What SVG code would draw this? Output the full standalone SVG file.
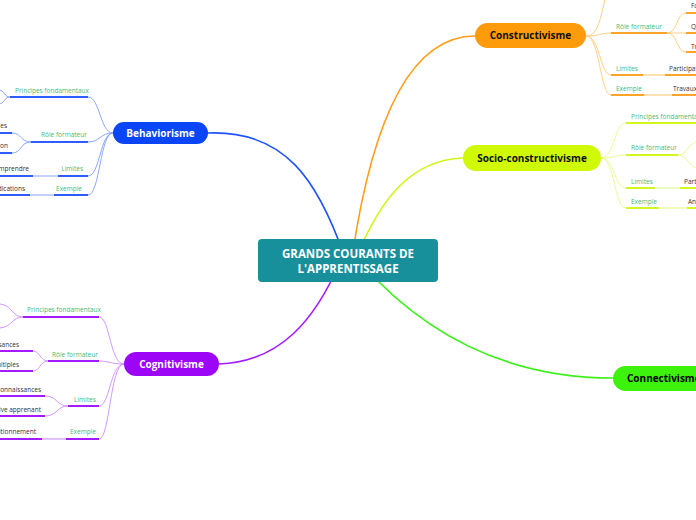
<svg xmlns="http://www.w3.org/2000/svg" width="696" height="520" viewBox="0 0 696 520">
<style>
text{font-family:"Open Sans","Noto Sans","Liberation Sans",sans-serif}
.lbl{font-size:6.5px;fill:#45bb78}
.leaf{font-size:6.5px;fill:#333}
.nt{font-size:10px;font-weight:bold}
.main{fill:none;stroke-width:1.6;stroke-linecap:round}
.thin{fill:none;stroke-width:0.9}
.ul{fill:none;stroke-width:2}
.lt{fill:none;stroke-width:2}
.b .thin{stroke:#7f9cff}.b .ul{stroke:#2f5cff}.b .lt{stroke:#c4d1ff}
.p .thin{stroke:#cc8cff}.p .ul{stroke:#a21cff}.p .lt{stroke:#e0bfff}
.o .thin{stroke:#ffc97a}.o .ul{stroke:#fca42a}.o .lt{stroke:#ffe0b0}
.y .thin{stroke:#e6fa88}.y .ul{stroke:#d3f520}.y .lt{stroke:#effcc0}
</style>
<rect width="696" height="520" fill="#fff"/>
<g id="connectors">
<path class="main" stroke="#1e52ff" d="M208,133 C285,130 318,180 345,258"/>
<path class="main" stroke="#ff9d1a" d="M475,36 C410,36 372,120 352,258"/>
<path class="main" stroke="#d2f51a" d="M463,158 C410,160 380,200 356,258"/>
<path class="main" stroke="#a51cff" d="M219,364 C280,362 315,320 340,262"/>
<path class="main" stroke="#3cf01a" d="M613,378 C500,378 420,330 360,262"/>
<g class="b">
<path class="thin" d="M113,133 C100,133 100,97 88,97"/>
<path class="thin" d="M113,133 C100,133 100,142 88,142"/>
<path class="thin" d="M113,133 C100,133 100,176 88,176"/>
<path class="thin" d="M113,133 C100,133 100,195 88,195"/>
<path class="ul" d="M88,97 H10"/>
<path class="thin" d="M10,97 C4,97 5,90 -2,90"/>
<path class="thin" d="M10,97 C4,97 5,104 -2,104"/>
<path class="ul" d="M88,142 H31"/>
<path class="thin" d="M31,142 C20,142 22,133 12,133"/>
<path class="thin" d="M31,142 C20,142 22,153 12,153"/>
<path class="ul" d="M12,133 H-5"/>
<path class="ul" d="M12,153 H-5"/>
<path class="ul" d="M88,176 H58"/>
<path class="lt" d="M58,176 H33"/>
<path class="ul" d="M33,176 H-5"/>
<path class="ul" d="M88,195 H54"/>
<path class="lt" d="M54,195 H30"/>
<path class="ul" d="M30,195 H-5"/>
</g>
<g class="p">
<path class="thin" d="M124,364 C110,364 110,317 99,317"/>
<path class="thin" d="M124,364 C110,364 110,361 99,361"/>
<path class="thin" d="M124,364 C110,364 110,406 99,406"/>
<path class="thin" d="M124,364 C110,364 110,439 99,439"/>
<path class="ul" d="M99,317 H23"/>
<path class="thin" d="M23,317 C12,317 12,305 0,304"/>
<path class="thin" d="M23,317 C12,317 12,327 0,328"/>
<path class="ul" d="M99,361 H48"/>
<path class="thin" d="M48,361 C40,361 40,351 33,351"/>
<path class="thin" d="M48,361 C40,361 40,371 33,371"/>
<path class="ul" d="M33,351 H-5"/>
<path class="ul" d="M33,371 H-5"/>
<path class="ul" d="M99,406 H68"/>
<path class="thin" d="M68,406 C57,406 57,396 45,396"/>
<path class="thin" d="M68,406 C57,406 57,416 45,416"/>
<path class="ul" d="M45,396 H-5"/>
<path class="ul" d="M45,416 H-5"/>
<path class="ul" d="M99,439 H66"/>
<path class="lt" d="M66,439 H42"/>
<path class="ul" d="M42,439 H-5"/>
</g>
<g class="o">
<path class="thin" d="M586,36 C598,36 600,20 606,-5"/>
<path class="thin" d="M586,36 C600,36 600,33 611,33"/>
<path class="thin" d="M586,36 C600,36 600,75 611,75"/>
<path class="thin" d="M586,36 C600,36 600,95 611,95"/>
<path class="ul" d="M611,33 H667"/>
<path class="thin" d="M667,33 C678,33 676,13 686,13"/>
<path class="thin" d="M667,33 H686"/>
<path class="thin" d="M667,33 C678,33 676,52 686,52"/>
<path class="ul" d="M686,13 H700"/>
<path class="ul" d="M686,33 H700"/>
<path class="ul" d="M686,52 H700"/>
<path class="ul" d="M611,75 H643"/>
<path class="lt" d="M643,75 H665"/>
<path class="ul" d="M665,75 H700"/>
<path class="ul" d="M611,95 H644"/>
<path class="lt" d="M644,95 H672"/>
<path class="ul" d="M672,95 H700"/>
</g>
<g class="y">
<path class="thin" d="M601,158 C615,158 614,123 626,123"/>
<path class="thin" d="M601,158 C615,158 614,155 626,155"/>
<path class="thin" d="M601,158 C615,158 614,188 626,188"/>
<path class="thin" d="M601,158 C615,158 614,208 626,208"/>
<path class="ul" d="M626,123 H700"/>
<path class="ul" d="M626,155 H678"/>
<path class="thin" d="M678,155 C688,155 688,142 700,141"/>
<path class="thin" d="M678,155 C688,155 688,168 700,169"/>
<path class="ul" d="M626,188 H655"/>
<path class="lt" d="M655,188 H680"/>
<path class="ul" d="M680,188 H700"/>
<path class="ul" d="M626,208 H659"/>
<path class="lt" d="M659,208 H687"/>
<path class="ul" d="M687,208 H700"/>
</g>
</g>
<g id="root">
<rect x="258" y="239" width="180" height="43" rx="4" fill="#17909b"/>
<text x="348" y="258" text-anchor="middle" fill="#fff" font-size="11.5" font-weight="bold">GRANDS COURANTS DE</text>
<text x="348" y="273" text-anchor="middle" fill="#fff" font-size="11.5" font-weight="bold">L'APPRENTISSAGE</text>
</g>
<g id="behaviorisme">
<rect x="113" y="122" width="95" height="22" rx="11" fill="#0a45f7"/>
<text class="nt" x="160.5" y="136.5" text-anchor="middle" fill="#fff">Behaviorisme</text>
<text class="lbl" x="15" y="92.5">Principes fondamentaux</text>
<text class="lbl" x="41" y="136.5">Rôle formateur</text>
<text class="lbl" x="83" y="170.5" text-anchor="end">Limites</text>
<text class="lbl" x="82" y="190.5" text-anchor="end">Exemple</text>
<text class="leaf" x="7" y="127.5" text-anchor="end">es</text>
<text class="leaf" x="8" y="147.5" text-anchor="end">on</text>
<text class="leaf" x="29" y="170.5" text-anchor="end">omprendre</text>
<text class="leaf" x="25" y="190.5" text-anchor="end">dications</text>
</g>
<g id="cognitivisme">
<rect x="124" y="352" width="95" height="24" rx="12" fill="#9d05f7"/>
<text class="nt" x="171.5" y="367.5" text-anchor="middle" fill="#fff">Cognitivisme</text>
<text class="lbl" x="27" y="311.5">Principes fondamentaux</text>
<text class="lbl" x="52" y="356.5">Rôle formateur</text>
<text class="lbl" x="74" y="401.5">Limites</text>
<text class="lbl" x="70" y="433.5">Exemple</text>
<text class="leaf" x="19" y="346.5" text-anchor="end">sances</text>
<text class="leaf" x="19" y="366.5" text-anchor="end">ultiples</text>
<text class="leaf" x="41" y="391.5" text-anchor="end">connaissances</text>
<text class="leaf" x="41" y="411.5" text-anchor="end">tive apprenant</text>
<text class="leaf" x="36" y="433.5" text-anchor="end">sitionnement</text>
</g>
<g id="constructivisme">
<rect x="475" y="23" width="111" height="25" rx="12.5" fill="#fd9b0b"/>
<text class="nt" x="530.5" y="39" text-anchor="middle" fill="#111">Constructivisme</text>
<text class="lbl" x="616" y="28.5">Rôle formateur</text>
<text class="lbl" x="616" y="70.5">Limites</text>
<text class="lbl" x="616" y="90.5">Exemple</text>
<text class="leaf" x="691" y="7.5">Fa</text>
<text class="leaf" x="691" y="28.5">Q</text>
<text class="leaf" x="691" y="48.5">Tr</text>
<text class="leaf" x="669" y="70.5">Participat</text>
<text class="leaf" x="673" y="90.5">Travaux</text>
</g>
<g id="socio-constructivisme">
<rect x="463" y="145" width="138" height="26" rx="13" fill="#d0f905"/>
<text class="nt" x="532" y="161.5" text-anchor="middle" fill="#111">Socio-constructivisme</text>
<text class="lbl" x="631" y="118.5">Principes fondamentaux</text>
<text class="lbl" x="631" y="149.5">Rôle formateur</text>
<text class="lbl" x="631" y="183.5">Limites</text>
<text class="lbl" x="631" y="203.5">Exemple</text>
<text class="leaf" x="684" y="183.5">Part</text>
<text class="leaf" x="688" y="203.5">An</text>
</g>
<g id="connectivisme">
<rect x="613" y="366" width="110" height="25" rx="12.5" fill="#3df20c"/>
<text class="nt" x="627" y="382">Connectivisme</text>
</g>
</svg>
